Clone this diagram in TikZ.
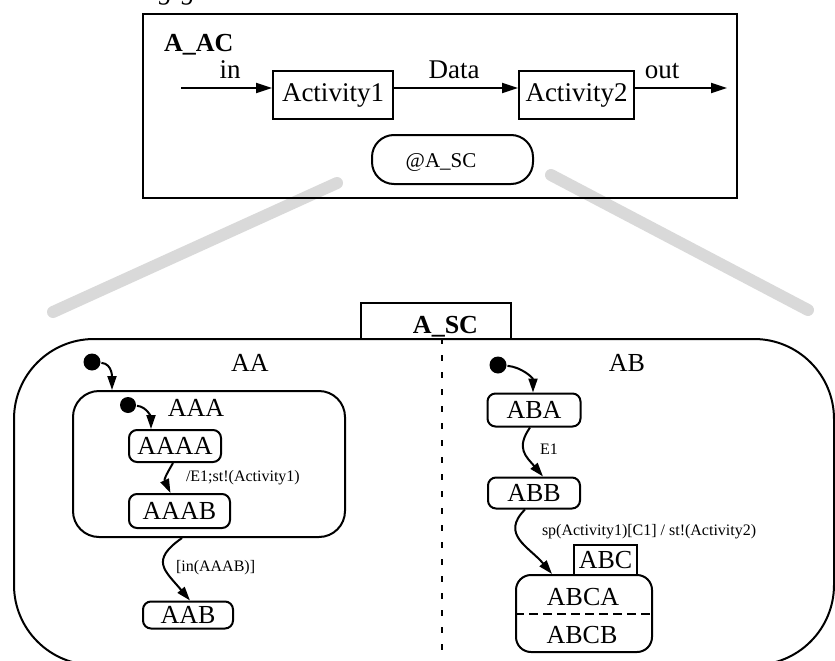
\documentclass[tikz,border=0pt]{standalone}
\usepackage{fontspec}
\setmainfont{Liberation Serif}
\usetikzlibrary{arrows.meta}

\begin{document}
\begin{tikzpicture}[
  x=1pt, y=1pt,
  line width=2pt,
  bigtip/.style={-{Triangle[length=16pt,width=10pt]}},
  tip/.style={-{Triangle[length=14pt,width=9pt]}},
  actbox/.style={draw, inner sep=0pt, minimum height=48pt, font=\fontsize{27}{30}\selectfont},
  stbox/.style={draw, rounded corners=8pt, inner sep=0pt, font=\fontsize{26}{28}\selectfont},
  bigtext/.style={inner sep=0pt, font=\fontsize{27}{30}\selectfont},
  sttext/.style={inner sep=0pt, font=\fontsize{26}{28}\selectfont},
  trtext/.style={inner sep=0pt, anchor=west, font=\fontsize{16}{18}\selectfont},
  initdot/.style={circle, fill, inner sep=0pt, minimum size=17pt},
  zoomline/.style={line width=12pt, line cap=round, draw=gray!30},
]
\useasboundingbox (0,0) rectangle (835,-661);

% caption letters cut by the page edge
\node[anchor=base west, inner sep=0pt, font=\fontsize{27}{30}\selectfont\itshape] (capfrag) at (158,0.7) {g\hspace{9.5pt}g};

% grey zoom lines between the activity chart and the statechart
\coordinate (zlAa) at (337,-183);
\coordinate (zlAb) at (53,-312);
\coordinate (zlBa) at (551,-175);
\coordinate (zlBb) at (808,-310);
\draw[zoomline] (zlAa) -- (zlAb);
\draw[zoomline] (zlBa) -- (zlBb);

% ---------- activity chart A_AC ----------
\node[draw, inner sep=0pt, minimum width=594pt, minimum height=184pt] (ac) at (440,-106) {};
\node[anchor=base west, inner sep=0pt, font=\fontsize{26}{28}\selectfont\bfseries] (actitle) at (163,-52) {A\_AC};

\node[actbox, minimum width=120pt] (act1) at (333,-95) {Activity1};
\node[actbox, minimum width=115pt] (act2) at (576.5,-95) {Activity2};

\coordinate (inS) at (181,-88);
\coordinate (outE) at (727,-88);
\draw[bigtip] (inS) -- (inS -| act1.west);
\draw[bigtip] (act1.east |- inS) -- (act2.west |- inS);
\draw[bigtip] (act2.east |- outE) -- (outE);

\node[bigtext, anchor=base] (inlbl) at (230,-78) {in};
\node[bigtext, anchor=base] (datalbl) at (454,-78) {Data};
\node[bigtext, anchor=base] (outlbl) at (662,-78) {out};

\node[draw, rounded corners=22pt, inner sep=0pt, minimum width=161pt, minimum height=49pt] (scref) at (452.5,-159.5) {};
\node[anchor=base, inner sep=0pt, font=\fontsize{21}{24}\selectfont] (screftext) at (441,-167) {@A\_SC};

% ---------- statechart A_SC ----------
\node[draw, rounded corners=80pt, inner sep=0pt, minimum width=820pt, minimum height=326pt] (sc) at (424,-502) {};
\node[draw, fill=white, inner sep=0pt, minimum width=150pt, minimum height=36pt] (tab) at (436,-321) {};
\node[anchor=base, inner sep=0pt, font=\fontsize{26}{28}\selectfont\bfseries] (tabtext) at (445.5,-333) {A\_SC};

\coordinate (divB) at (442,-661);
\draw[dash pattern=on 6pt off 11pt] (sc.north -| divB) -- (divB);

% left component AA
\node[sttext] (aalbl) at (250,-363) {AA};
\node[initdot] (aadot) at (92,-362) {};
\node[stbox, rounded corners=26pt, minimum width=272pt, minimum height=146pt] (aaa) at (209,-464) {};
\node[sttext] (aaalbl) at (196,-408) {AAA};
\node[initdot, minimum size=16pt] (aaadot) at (128,-405) {};

\node[stbox, minimum width=92pt, minimum height=32pt] (aaaa) at (175,-446) {AAAA};
\node[stbox, minimum width=101pt, minimum height=34pt] (aaab) at (179.5,-511) {AAAB};
\node[stbox, minimum width=90pt, minimum height=27pt] (aab) at (188,-615) {AAB};

\draw[tip] (aadot) to[out=-5, in=90] ([xshift=40pt]aaa.north west);
\draw[tip] (aaadot) to[out=-5, in=90] ([xshift=23pt]aaaa.north west);
\draw[tip] ([xshift=-2pt]aaaa.south) to[out=-120, in=115, looseness=1.3] ([xshift=-9pt]aaab.north);
\node[trtext] (tra) at (185,-478) {/E1;st!(Activity1)};
\draw[tip] ([xshift=-27pt]aaa.south) to[out=-145, in=130, looseness=1.6] ([xshift=2pt]aab.north);
\node[trtext] (trb) at (175,-568) {[in(AAAB)]};

% right component AB
\node[sttext] (ablbl) at (627,-363) {AB};
\node[initdot] (abdot) at (498,-365) {};
\node[stbox, minimum width=93pt, minimum height=33pt] (aba) at (534,-410) {ABA};
\node[stbox, minimum width=92pt, minimum height=31pt] (abb) at (534,-493) {ABB};

\node[stbox, rounded corners=15pt, minimum width=136pt, minimum height=77pt] (abcbox) at (584,-613.5) {};
\draw[dash pattern=on 9pt off 5pt] (abcbox.west) -- (abcbox.east);
\node[sttext] (abca) at (583,-597) {ABCA};
\node[sttext] (abcb) at (582,-635) {ABCB};
\node[draw, inner sep=0pt, minimum width=63pt, minimum height=30pt, font=\fontsize{26}{28}\selectfont] (abc) at (605.5,-560) {ABC};

\draw[tip] (abdot) to[out=-5, in=90] ([xshift=-1pt]aba.north);
\draw[tip] ([xshift=-4pt]aba.south) to[out=-125, in=130, looseness=1.3] ([xshift=9pt]abb.north);
\node[trtext] (trc) at (539,-449) {E1};
\draw[tip] ([xshift=-9pt]abb.south) to[out=-135, in=130, looseness=1.3] ([xshift=-32pt]abcbox.north);
\node[trtext] (trd) at (541,-532) {sp(Activity1)[C1] / st!(Activity2)};
\end{tikzpicture}
\end{document}
